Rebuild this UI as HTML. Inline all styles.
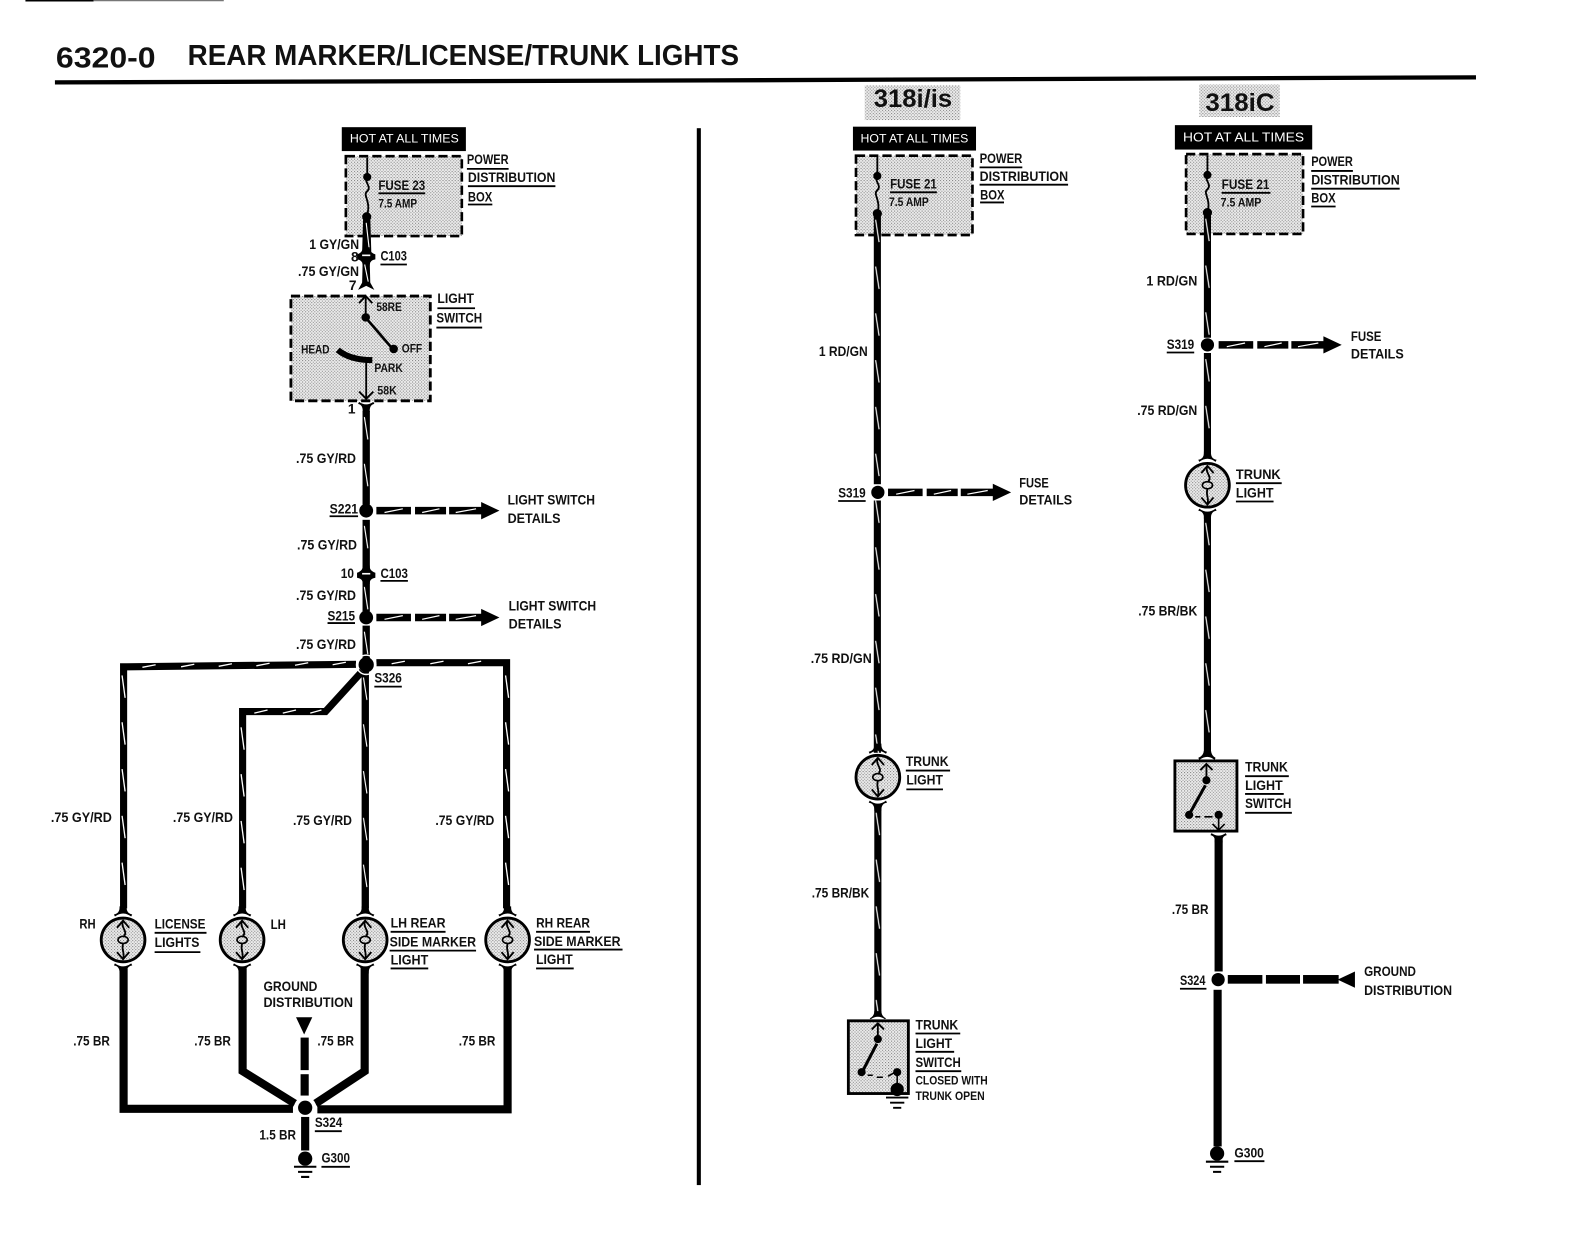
<!DOCTYPE html>
<html><head><meta charset="utf-8"><title>6320-0 Rear Marker/License/Trunk Lights</title>
<style>
html,body{margin:0;padding:0;background:#fff}
svg{display:block}
text{font-family:"Liberation Sans",sans-serif;font-weight:bold;font-size:13.5px;fill:#111}
.s{font-size:11.5px}
.w{fill:#fff;font-weight:normal;font-size:11.5px}
</style></head><body>
<svg xmlns="http://www.w3.org/2000/svg" width="1595" height="1238" viewBox="0 0 1568 1217">
<defs>
<pattern id="g" width="3" height="3" patternUnits="userSpaceOnUse"><rect width="3" height="3" fill="#ececec"/><rect width="1" height="1" fill="#777"/><rect x="1.500" y="1.500" width="1" height="1" fill="#8a8a8a"/></pattern>
<pattern id="v" width="7.200" height="46" patternUnits="userSpaceOnUse"><rect width="7.200" height="46" fill="#000"/><path d="M1.800 6L5.200 28" stroke="#fff" stroke-width="1.100"/></pattern>
<g id="bulb">
<path d="M-9-25Q-3-26-3.500-33H3.500Q3-26 9-25L8-23Q0-29-8-23ZM-9 25Q-3 26-3.500 33H3.500Q3 26 9 25L8 23Q0 29-8 23Z"/>
<ellipse rx="21.500" ry="21.500" fill="url(#g)" stroke="#000" stroke-width="2.800"/>
<path d="M-6-12L0-19L6-12M-6 12L0 19L6 12" fill="none" stroke="#000" stroke-width="1.800"/>
<path d="M0-19C-3-12 5-9 1-4M0 4C-2 10 2 12 0 19" fill="none" stroke="#000" stroke-width="1.800"/>
<ellipse cy="0" rx="5" ry="3.500" fill="none" stroke="#000" stroke-width="1.600"/>
</g>
<g id="gnd"><circle r="7" cy="-1"/><path d="M-11 7H11M-7 12H7M-4 17H4" stroke="#000" stroke-width="2"/></g>
<path id="fuse" d="M0 0V19M0 19C-4 24 5 28 0 33C-5 37 4 42 0 56" fill="none" stroke="#000" stroke-width="1.800"/>
<path id="conn" d="M-3.500-9Q-3-4-9-2V3Q-3 4-3.500 9H3.500Q3 4 9 3V-2Q3-4 3.500-9Z"/>
<g id="arr">
<path d="M0-3.700H34V3.700H0ZM38-3.700H68.500V3.700H38ZM71.500-3.700H104V3.700H71.500ZM103-8.500L121 0L103 8.500Z"/>
<path d="M8 1.800L26-1.800M45 1.800L62-1.800M78 1.800L98-1.800" stroke="#fff" stroke-width="1.200"/>
</g>
</defs>

<rect width="1568" height="1217" fill="#fff"/>
<path d="M25 0.500H92" stroke="#000" stroke-width="2"/><path d="M92 0.500H220" stroke="#777" stroke-width="1.500"/>
<text x="55" y="66.500" style="font-size:28.500px" textLength="98" lengthAdjust="spacingAndGlyphs">6320-0</text>
<text x="184.500" y="64" style="font-size:28.500px" textLength="542" lengthAdjust="spacingAndGlyphs">REAR MARKER/LICENSE/TRUNK LIGHTS</text>
<path d="M54 81L700 79L1451 76" stroke="#000" stroke-width="4.200" fill="none"/>
<rect x="685" y="126" width="4" height="1039"/>

<!-- LEFT -->
<rect x="336" y="125" width="122" height="23.500"/>
<text x="344" y="140" class="w" textLength="107" lengthAdjust="spacingAndGlyphs">HOT AT ALL TIMES</text>
<rect x="340" y="153.500" width="114" height="78.500" fill="url(#g)" stroke="#000" stroke-width="2.600" stroke-dasharray="9 4"/>
<use href="#fuse" x="361" y="155"/>
<circle cx="361" cy="174" r="4"/><circle cx="360.500" cy="213" r="4.500"/>
<path d="M357 213H364L365 248H356Z"/>
<path d="M360 219L363 245" stroke="#fff" stroke-width="1.100"/>
<use href="#conn" x="360" y="252"/>
<path d="M356 251H364" stroke="#fff" stroke-width="1.600"/>
<path d="M356.500 258H363.500L364 278H356Z"/>
<path d="M358.500 260L362 277" stroke="#fff" stroke-width="1.100"/>
<path d="M352 285L356.500 277H363.500L368 285L360 281Z"/>
<text x="372" y="187" textLength="46" lengthAdjust="spacingAndGlyphs">FUSE 23</text>
<text x="372" y="204" class="s" textLength="38" lengthAdjust="spacingAndGlyphs">7.5 AMP</text>
<text x="459" y="161" textLength="41" lengthAdjust="spacingAndGlyphs">POWER</text>
<text x="460" y="179" textLength="86" lengthAdjust="spacingAndGlyphs">DISTRIBUTION</text>
<text x="460" y="198" textLength="24" lengthAdjust="spacingAndGlyphs">BOX</text>
<text x="304" y="245" textLength="49" lengthAdjust="spacingAndGlyphs">1 GY/GN</text>
<text x="345" y="257">8</text>
<text x="374" y="256" textLength="26" lengthAdjust="spacingAndGlyphs">C103</text>
<text x="293" y="271.500" textLength="60" lengthAdjust="spacingAndGlyphs">.75 GY/GN</text>
<text x="343" y="285">7</text>

<rect x="286" y="291" width="137" height="103" fill="url(#g)" stroke="#000" stroke-width="2.800" stroke-dasharray="9 4"/>
<path d="M353 298L359.500 291L366 298M359.500 292V312" fill="none" stroke="#000" stroke-width="1.800"/>
<path d="M361 314L386 343" stroke="#000" stroke-width="2.600"/>
<circle cx="359.500" cy="312" r="4.200"/><circle cx="387" cy="343" r="4.200"/>
<path d="M332 344Q344 354 366 354" fill="none" stroke="#000" stroke-width="6"/>
<path d="M360 354V392M353 385L360 392L367 385" fill="none" stroke="#000" stroke-width="1.800"/>
<path d="M352 397Q357 398 356.500 405H363.500Q363 398 368 397L367 395Q360 400 353 395Z"/>
<text x="430" y="298" textLength="36" lengthAdjust="spacingAndGlyphs">LIGHT</text>
<text x="429" y="317" textLength="45" lengthAdjust="spacingAndGlyphs">SWITCH</text>
<text x="370" y="305.500" class="s" textLength="25" lengthAdjust="spacingAndGlyphs">58RE</text>
<text x="296" y="347.500" class="s" textLength="28" lengthAdjust="spacingAndGlyphs">HEAD</text>
<text x="395" y="346.500" class="s" textLength="20" lengthAdjust="spacingAndGlyphs">OFF</text>
<text x="368" y="365.500" class="s" textLength="28" lengthAdjust="spacingAndGlyphs">PARK</text>
<text x="371" y="388" class="s" textLength="19" lengthAdjust="spacingAndGlyphs">58K</text>
<text x="342" y="406.500">1</text>

<g transform="translate(356.400,404)"><rect width="7.200" height="92" fill="url(#v)"/></g>
<g transform="translate(356.400,511)"><rect width="7.200" height="48" fill="url(#v)"/></g>
<use href="#conn" x="360" y="565"/>
<path d="M356 564H364" stroke="#fff" stroke-width="1.600"/>
<g transform="translate(356.400,571)"><rect width="7.200" height="30" fill="url(#v)"/></g>
<g transform="translate(356.400,615)"><rect width="7.200" height="33" fill="url(#v)"/></g>
<circle cx="360" cy="502" r="6.800"/><circle cx="360" cy="607" r="6.800"/>
<use href="#arr" x="370" y="502"/><use href="#arr" x="370" y="607"/>
<text x="291" y="455" textLength="59" lengthAdjust="spacingAndGlyphs">.75 GY/RD</text>
<text x="292" y="540" textLength="59" lengthAdjust="spacingAndGlyphs">.75 GY/RD</text>
<text x="291" y="590" textLength="59" lengthAdjust="spacingAndGlyphs">.75 GY/RD</text>
<text x="291" y="638" textLength="59" lengthAdjust="spacingAndGlyphs">.75 GY/RD</text>
<text x="324" y="505" textLength="28" lengthAdjust="spacingAndGlyphs">S221</text>
<text x="322" y="610" textLength="27" lengthAdjust="spacingAndGlyphs">S215</text>
<text x="335" y="568" textLength="13" lengthAdjust="spacingAndGlyphs">10</text>
<text x="374" y="568" textLength="27" lengthAdjust="spacingAndGlyphs">C103</text>
<text x="499" y="496" textLength="86" lengthAdjust="spacingAndGlyphs">LIGHT SWITCH</text>
<text x="499" y="514" textLength="52" lengthAdjust="spacingAndGlyphs">DETAILS</text>
<text x="500" y="600" textLength="86" lengthAdjust="spacingAndGlyphs">LIGHT SWITCH</text>
<text x="500" y="618" textLength="52" lengthAdjust="spacingAndGlyphs">DETAILS</text>

<path d="M350 653L121.500 655.500V893" fill="none" stroke="#000" stroke-width="7"/>
<path d="M370 651.500H498V893" fill="none" stroke="#000" stroke-width="7"/>
<path d="M356 660L320 699.500H238.500V893" fill="none" stroke="#000" stroke-width="7"/>
<g fill="none" stroke="#fff" stroke-width="1.300">
<path d="M140 656L153 653.500M178 655.500L191 653M215 655L228 652.500M252 654.500L265 652M290 654L303 651.500M327 653.500L340 651M385 652.500L398 650M423 652.500L436 650M460 652.500L473 650"/>
<path d="M120 664L123 686M120 710L123 732M120 756L123 778M120 802L123 824M120 848L123 870"/>
<path d="M497 664L500 686M497 710L500 732M497 756L500 778M497 802L500 824M497 848L500 870"/>
<path d="M250 701L263 698M278 701L291 698M305 701L316 698M237 715L240 737M237 761L240 783M237 807L240 829M237 853L240 875"/>
</g>
<g transform="translate(355.500,660)"><rect width="7.200" height="233" fill="url(#v)"/></g>
<circle cx="360" cy="653.500" r="7.500"/><circle cx="360" cy="653.500" r="9.500" fill="none" stroke="#fff" stroke-width="1.500"/>
<text x="368" y="671" textLength="27" lengthAdjust="spacingAndGlyphs">S326</text>
<text x="50" y="808" textLength="60" lengthAdjust="spacingAndGlyphs">.75 GY/RD</text>
<text x="170" y="808" textLength="59" lengthAdjust="spacingAndGlyphs">.75 GY/RD</text>
<text x="288" y="811" textLength="58" lengthAdjust="spacingAndGlyphs">.75 GY/RD</text>
<text x="428" y="811" textLength="58" lengthAdjust="spacingAndGlyphs">.75 GY/RD</text>
<use href="#bulb" x="121" y="924"/><use href="#bulb" x="238" y="924"/><use href="#bulb" x="359" y="924"/><use href="#bulb" x="499" y="924"/>
<text x="78" y="913" textLength="16" lengthAdjust="spacingAndGlyphs">RH</text>
<text x="152" y="913" textLength="50" lengthAdjust="spacingAndGlyphs">LICENSE</text>
<text x="152" y="931" textLength="44" lengthAdjust="spacingAndGlyphs">LIGHTS</text>
<text x="266" y="913.500" textLength="15" lengthAdjust="spacingAndGlyphs">LH</text>
<text x="384" y="912" textLength="54" lengthAdjust="spacingAndGlyphs">LH REAR</text>
<text x="383" y="930.500" textLength="85" lengthAdjust="spacingAndGlyphs">SIDE MARKER</text>
<text x="384" y="948" textLength="37" lengthAdjust="spacingAndGlyphs">LIGHT</text>
<text x="527" y="912" textLength="53" lengthAdjust="spacingAndGlyphs">RH REAR</text>
<text x="525" y="930" textLength="85" lengthAdjust="spacingAndGlyphs">SIDE MARKER</text>
<text x="527" y="947.500" textLength="36" lengthAdjust="spacingAndGlyphs">LIGHT</text>
<path d="M121.500 952V1090H288" fill="none" stroke="#000" stroke-width="8"/>
<path d="M499 952V1090.500H312" fill="none" stroke="#000" stroke-width="8"/>
<path d="M238.500 952V1053L290 1085" fill="none" stroke="#000" stroke-width="8"/>
<path d="M358.500 952V1053L310 1085" fill="none" stroke="#000" stroke-width="8"/>
<circle cx="300" cy="1089" r="11" fill="#fff"/>
<circle cx="300" cy="1089" r="7"/>
<path d="M291 1000H307L299 1017Z"/>
<rect x="295.500" y="1020" width="8" height="32"/><rect x="295.500" y="1056" width="8" height="21"/>
<rect x="296" y="1098" width="8" height="33"/>
<use href="#gnd" x="300" y="1140"/>
<text x="316" y="1143" textLength="28" lengthAdjust="spacingAndGlyphs">G300</text>
<text x="309.500" y="1108" textLength="27" lengthAdjust="spacingAndGlyphs">S324</text>
<text x="255" y="1120" textLength="36" lengthAdjust="spacingAndGlyphs">1.5 BR</text>
<text x="259" y="974" textLength="53" lengthAdjust="spacingAndGlyphs">GROUND</text>
<text x="259" y="990" textLength="88" lengthAdjust="spacingAndGlyphs">DISTRIBUTION</text>
<text x="72" y="1028" textLength="36" lengthAdjust="spacingAndGlyphs">.75 BR</text>
<text x="191" y="1028" textLength="36" lengthAdjust="spacingAndGlyphs">.75 BR</text>
<text x="312" y="1028" textLength="36" lengthAdjust="spacingAndGlyphs">.75 BR</text>
<text x="451" y="1028" textLength="36" lengthAdjust="spacingAndGlyphs">.75 BR</text>

<!-- MIDDLE -->
<rect x="850" y="84" width="94" height="34" fill="url(#g)"/>
<text x="859" y="105" style="font-size:25px" textLength="77" lengthAdjust="spacingAndGlyphs">318i/is</text>
<rect x="838.500" y="124.500" width="121" height="23.500"/>
<text x="846" y="140" class="w" textLength="106" lengthAdjust="spacingAndGlyphs">HOT AT ALL TIMES</text>
<rect x="841.500" y="153" width="114.500" height="78" fill="url(#g)" stroke="#000" stroke-width="2.600" stroke-dasharray="9 4"/>
<use href="#fuse" x="862.500" y="154"/>
<circle cx="862.500" cy="173" r="4"/><circle cx="862.500" cy="210" r="4.500"/>
<g transform="translate(859,210)"><rect width="7" height="530" fill="url(#v)"/></g>
<text x="875" y="185.500" textLength="46" lengthAdjust="spacingAndGlyphs">FUSE 21</text>
<text x="874" y="202.500" class="s" textLength="39" lengthAdjust="spacingAndGlyphs">7.5 AMP</text>
<text x="963" y="160" textLength="42" lengthAdjust="spacingAndGlyphs">POWER</text>
<text x="963" y="178" textLength="87" lengthAdjust="spacingAndGlyphs">DISTRIBUTION</text>
<text x="963.500" y="196" textLength="24" lengthAdjust="spacingAndGlyphs">BOX</text>
<text x="805" y="350" textLength="48" lengthAdjust="spacingAndGlyphs">1 RD/GN</text>
<rect x="855" y="476" width="18" height="16" fill="#fff"/>
<circle cx="863" cy="484" r="6.500"/>
<use href="#arr" x="873" y="484"/>
<text x="824" y="489" textLength="27" lengthAdjust="spacingAndGlyphs">S319</text>
<text x="1002" y="479" textLength="29" lengthAdjust="spacingAndGlyphs">FUSE</text>
<text x="1002" y="496" textLength="52" lengthAdjust="spacingAndGlyphs">DETAILS</text>
<text x="797" y="652" textLength="60" lengthAdjust="spacingAndGlyphs">.75 RD/GN</text>
<use href="#bulb" x="863" y="764"/>
<text x="890.500" y="753" textLength="42" lengthAdjust="spacingAndGlyphs">TRUNK</text>
<text x="891" y="771" textLength="36" lengthAdjust="spacingAndGlyphs">LIGHT</text>
<g transform="translate(859.500,793)"><rect width="7" height="205" fill="url(#v)"/></g>
<text x="798" y="882.500" textLength="56.500" lengthAdjust="spacingAndGlyphs">.75 BR/BK</text>
<path d="M855 1001Q859.500 999 859.500 994H866.500Q866.500 999 871 1001L870 1002Q863 997 856 1002Z"/>
<rect x="834" y="1003.500" width="59" height="71.500" fill="url(#g)" stroke="#000" stroke-width="2.800"/>
<path d="M857 1012L863 1006L869 1012M863 1006V1021" fill="none" stroke="#000" stroke-width="1.800"/>
<path d="M862 1026L848 1053" stroke="#000" stroke-width="3"/>
<circle cx="863" cy="1021.500" r="4"/><circle cx="847" cy="1054" r="4"/><circle cx="882" cy="1054" r="4"/>
<path d="M853 1057H858M862 1059H868M873 1058L880 1054M882 1054V1068" stroke="#000" stroke-width="1.500" fill="none"/>
<circle cx="882" cy="1071" r="6.500"/>
<path d="M871 1079H893M875 1084H889M878 1089H886" stroke="#000" stroke-width="1.800"/>
<text x="900" y="1012" textLength="42" lengthAdjust="spacingAndGlyphs">TRUNK</text>
<text x="900" y="1030" textLength="36" lengthAdjust="spacingAndGlyphs">LIGHT</text>
<text x="900" y="1049" textLength="44.500" lengthAdjust="spacingAndGlyphs">SWITCH</text>
<text x="900" y="1066" class="s" textLength="71" lengthAdjust="spacingAndGlyphs">CLOSED WITH</text>
<text x="900" y="1081.500" class="s" textLength="68" lengthAdjust="spacingAndGlyphs">TRUNK OPEN</text>

<!-- RIGHT -->
<rect x="1179" y="83" width="79" height="32" fill="url(#g)"/>
<text x="1185" y="109" style="font-size:25px" textLength="68" lengthAdjust="spacingAndGlyphs">318iC</text>
<rect x="1155" y="123" width="135" height="24"/>
<text x="1163" y="139" class="w" style="font-size:12.500px" textLength="119" lengthAdjust="spacingAndGlyphs">HOT AT ALL TIMES</text>
<rect x="1166" y="151.500" width="115" height="78.500" fill="url(#g)" stroke="#000" stroke-width="2.600" stroke-dasharray="9 4"/>
<use href="#fuse" x="1187" y="153"/>
<circle cx="1187" cy="172" r="4"/><circle cx="1187" cy="209" r="4.500"/>
<g transform="translate(1183.500,209)"><rect width="7" height="123" fill="url(#v)"/></g>
<text x="1201" y="186" textLength="47" lengthAdjust="spacingAndGlyphs">FUSE 21</text>
<text x="1200" y="203" class="s" textLength="40" lengthAdjust="spacingAndGlyphs">7.5 AMP</text>
<text x="1289" y="163" textLength="41" lengthAdjust="spacingAndGlyphs">POWER</text>
<text x="1289" y="181.500" textLength="87" lengthAdjust="spacingAndGlyphs">DISTRIBUTION</text>
<text x="1289" y="199" textLength="24" lengthAdjust="spacingAndGlyphs">BOX</text>
<text x="1127" y="280.500" textLength="50" lengthAdjust="spacingAndGlyphs">1 RD/GN</text>
<circle cx="1187" cy="339" r="6.500"/>
<use href="#arr" x="1198" y="339"/>
<text x="1147" y="343" textLength="27" lengthAdjust="spacingAndGlyphs">S319</text>
<text x="1328" y="335" textLength="30" lengthAdjust="spacingAndGlyphs">FUSE</text>
<text x="1328" y="352.500" textLength="52" lengthAdjust="spacingAndGlyphs">DETAILS</text>
<g transform="translate(1183.500,347)"><rect width="7" height="103" fill="url(#v)"/></g>
<text x="1118" y="408" textLength="59" lengthAdjust="spacingAndGlyphs">.75 RD/GN</text>
<use href="#bulb" x="1187" y="477"/>
<text x="1215" y="471" textLength="44" lengthAdjust="spacingAndGlyphs">TRUNK</text>
<text x="1215" y="489" textLength="37" lengthAdjust="spacingAndGlyphs">LIGHT</text>
<g transform="translate(1183.500,508)"><rect width="7" height="234" fill="url(#v)"/></g>
<text x="1119" y="605" textLength="58" lengthAdjust="spacingAndGlyphs">.75 BR/BK</text>
<path d="M1178 745Q1183 743 1183.500 738H1190.500Q1191 743 1195 745L1194 747Q1187 741 1179 747Z"/>
<rect x="1155" y="748" width="61" height="69" fill="url(#g)" stroke="#000" stroke-width="2.800"/>
<path d="M1180 757L1186 751L1192 757M1186 751V767" fill="none" stroke="#000" stroke-width="1.800"/>
<path d="M1185 772L1170 799" stroke="#000" stroke-width="3"/>
<circle cx="1186" cy="767" r="4"/><circle cx="1169" cy="801" r="4"/><circle cx="1198" cy="801" r="4"/>
<path d="M1175 803H1180M1184 803H1192M1198 801V816M1192 810L1198 816L1204 810" stroke="#000" stroke-width="1.600" fill="none"/>
<path d="M1190 821Q1195 822 1194 828H1202Q1201 822 1206 821L1205 819Q1198 824 1191 819Z"/>
<rect x="1194" y="825" width="8" height="130"/>
<text x="1224" y="758.500" textLength="42" lengthAdjust="spacingAndGlyphs">TRUNK</text>
<text x="1224" y="776.500" textLength="37" lengthAdjust="spacingAndGlyphs">LIGHT</text>
<text x="1224" y="794.500" textLength="45.500" lengthAdjust="spacingAndGlyphs">SWITCH</text>
<text x="1152" y="898.500" textLength="36" lengthAdjust="spacingAndGlyphs">.75 BR</text>
<circle cx="1197.500" cy="963" r="6.500"/>
<text x="1160" y="968.500" textLength="25" lengthAdjust="spacingAndGlyphs">S324</text>
<rect x="1207" y="958.500" width="34" height="8.500"/><rect x="1244.500" y="958.500" width="33.500" height="8.500"/><rect x="1281" y="958.500" width="35" height="8.500"/>
<path d="M1315 963L1332 955V971Z"/>
<text x="1341" y="959.500" textLength="51" lengthAdjust="spacingAndGlyphs">GROUND</text>
<text x="1341" y="978" textLength="86.500" lengthAdjust="spacingAndGlyphs">DISTRIBUTION</text>
<rect x="1193" y="973" width="8" height="154"/>
<use href="#gnd" x="1196.500" y="1135"/>
<text x="1213.500" y="1138" textLength="29" lengthAdjust="spacingAndGlyphs">G300</text>

<!-- label underlines -->
<path fill="none" stroke="#000" stroke-width="1.800" d="
M372 190H418M459 166H500M460 183H546M460 201H484M374 260H400M430 303H467M429 322H474
M324 507.500H352M322 612.500H349M374 571H401M368 675H395
M152 917H203M152 936H197M384 916H438M383 934.500H468M384 952H421M527 916H580M525 933.500H612M527 952H564
M309.500 1112H336M316 1147H344
M875 189H921M963 164.500H1005M963 181.500H1050M963.500 199H987M824 492.500H851
M890.500 757.500H934M891 776H927M900 1016H944M900 1034H938M900 1053H945
M1201 189.500H1249M1289 168H1330M1289 185.500H1376M1289 203H1313M1147 346.500H1174M1215 475H1260M1215 493H1252
M1224 763H1267M1224 780.500H1262M1224 799H1270M1160 972H1186M1213.500 1141.500H1243"/>
</svg>
</body></html>
